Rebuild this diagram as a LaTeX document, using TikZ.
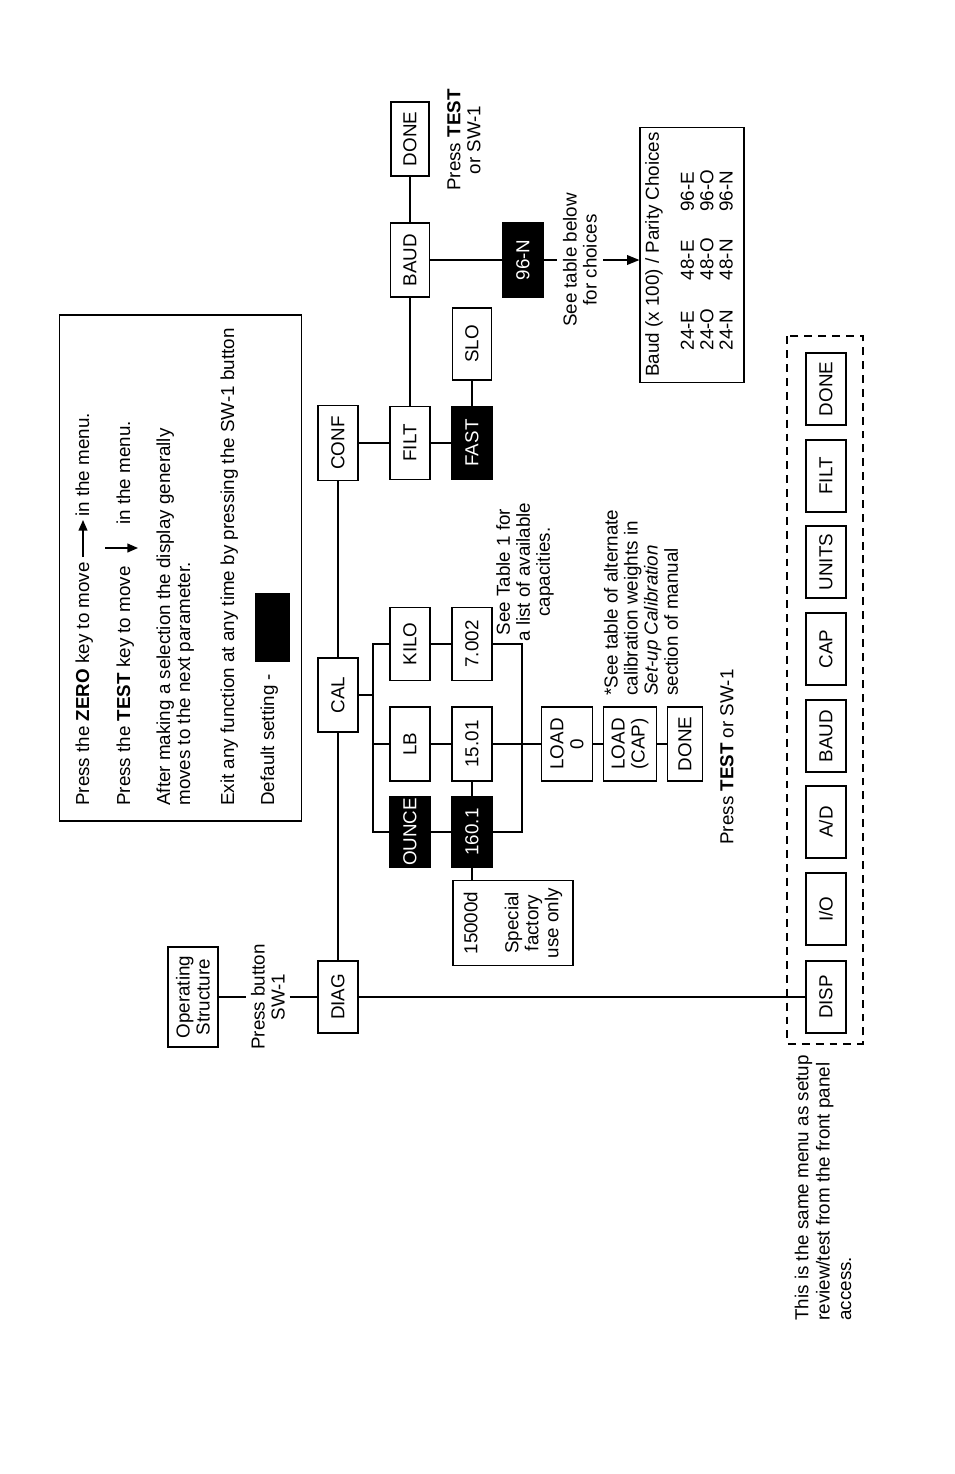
\documentclass[tikz,border=0pt]{standalone}
\usepackage{fontspec}
\setmainfont{Liberation Sans}
\usetikzlibrary{arrows.meta}
\newcommand{\myfs}{\fontsize{10.7}{11.4}\selectfont}
\begin{document}
\begin{tikzpicture}[x=0.02cm,y=-0.02cm, font=\myfs,
 sz/.style 2 args={minimum width=#1*0.5669pt, minimum height=#2*0.5669pt},
 box/.style={draw, line width=0.9pt, rotate=90, inner sep=0pt, align=center},
 blk/.style={box, fill=black, text=white},
 txt/.style={rotate=90, inner sep=0pt, align=center},
 ln/.style={line width=0.8pt},
 tip/.style={-{Triangle[length=6pt,width=5pt]}},
]
\useasboundingbox (0,0) rectangle (954,1474);

% info box
\node[draw, line width=0.9pt, rotate=90, sz={508}{243}] (info) at (180.5,568) {};
\node[txt, anchor=base west] (l1a) at (89,806) {Press the \textbf{ZERO} key to move};
\node[txt, anchor=base west] (l1b) at (89,517) {in the menu.};
\coordinate (a1s) at (83,557);
\coordinate (a1e) at (83,520);
\draw[ln, tip] (a1s) -- (a1e);
\node[txt, anchor=base west] (l2a) at (130,806) {Press the \textbf{TEST} key to move};
\node[txt, anchor=base west] (l2b) at (130,525) {in the menu.};
\coordinate (a2s) at (105,548);
\coordinate (a2e) at (138,548);
\draw[ln, tip] (a2s) -- (a2e);
\node[txt, anchor=base west] (l3) at (170,806) {After making a selection the display generally};
\node[txt, anchor=base west] (l4) at (190,806) {moves to the next parameter.};
\node[txt, anchor=base west] (l5) at (234,806) {Exit any function at any time by pressing the SW-1 button};
\node[txt, anchor=base west] (l6) at (274,806) {Default setting -};
\node[fill=black, rotate=90, inner sep=0pt, sz={69}{35}] (defbox) at (272.5,627.5) {};

% main tree
\node[box, sz={100}{50}] (op) at (193,997) {Operating\\Structure};
\node[txt, inner sep=2.5pt] (pb) at (268,997) {Press button\\SW-1};
\node[box, sz={72}{40}] (diag) at (338,997) {DIAG};
\node[box, sz={74}{40}] (cal) at (338,695) {CAL};
\node[box, sz={75}{40}] (conf) at (338,443) {CONF};

\node[box, sz={73}{40}] (kilo) at (410,644) {KILO};
\node[box, sz={74}{40}] (lb) at (410,744) {LB};
\node[blk, sz={70}{40}] (ounce) at (410,832) {OUNCE};
\node[box, sz={73}{40}] (n7) at (472,644) {7.002};
\node[box, sz={74}{40}] (n15) at (472,744) {15.01};
\node[blk, sz={70}{40}] (n160) at (472,832) {160.1};
\node[box, sz={74}{51}] (load0) at (567,744) {LOAD\\0};
\node[box, sz={74}{53}] (loadcap) at (630,744) {LOAD\\(CAP)};
\node[box, sz={74}{35}] (donec) at (685,744) {DONE};
\node[box, sz={85}{121}] (spec) at (513,923) {15000d\\[12pt]Special\\factory\\use only};

\node[txt] (seetab1) at (525,572) {See Table 1 for\\a list of available\\capacities.};
\node[txt, align=left, anchor=west] (seealt) at (641,696) {*See table of alternate\\calibration weights in\\\textit{Set-up Calibration}\\section of manual};
\node[txt] (ptest1) at (727,757) {Press \textbf{TEST} or SW-1};

\node[box, sz={73}{40}] (filt) at (410,443) {FILT};
\node[blk, sz={73}{40}] (fast) at (472,443) {FAST};
\node[box, sz={72}{39}] (slo) at (472,344) {SLO};
\node[box, sz={74}{39}] (baud) at (410,260) {BAUD};
\node[box, sz={74}{38}] (doneb) at (410,139) {DONE};
\node[txt] (ptest2) at (464,140) {Press \textbf{TEST}\\or SW-1};
\node[blk, sz={74}{40}] (n96) at (523,260) {96-N};
\node[txt, inner sep=3.5pt] (stb) at (580,260) {See table below\\for choices};

\node[box, sz={256}{104}] (tbl) at (692,255) {};
\node[txt, align=left, anchor=west, font=\fontsize{10.7}{11}\selectfont] (tbltxt) at (689,377)
 {Baud (x 100) / Parity Choices\\[9pt]
  \hspace*{15pt}\makebox[40pt][l]{24-E}\makebox[39pt][l]{48-E}96-E\\
  \hspace*{15pt}\makebox[40pt][l]{24-O}\makebox[39pt][l]{48-O}96-O\\
  \hspace*{15pt}\makebox[40pt][l]{24-N}\makebox[39pt][l]{48-N}96-N};

% dashed menu
\node[draw, dash pattern=on 4.5pt off 3.4pt, line width=1.1pt, rotate=90, sz={710}{76}] (dashbox) at (825,690) {};
\node[box, sz={72}{40}] (disp) at (826,997) {DISP};
\node[box, sz={72}{40}] (io) at (826,909) {I/O};
\node[box, sz={72}{40}] (ad) at (826,822) {A/D};
\node[box, sz={72}{40}] (mbaud) at (826,736) {BAUD};
\node[box, sz={72}{40}] (mcap) at (826,649) {CAP};
\node[box, sz={72}{40}] (munits) at (826,562) {UNITS};
\node[box, sz={72}{40}] (mfilt) at (826,476) {FILT};
\node[box, sz={72}{40}] (mdone) at (826,389) {DONE};
\node[txt, align=left, anchor=west, font=\fontsize{10.7}{12.2}\selectfont] (foot) at (823,1321)
 {This is the same menu as setup\\review/test from the front panel\\access.};

% connectors
\draw[ln] (op) -- (pb);
\draw[ln] (pb) -- (diag);
\draw[ln] (diag) -- (disp);
\draw[ln] (diag) -- (cal);
\draw[ln] (cal) -- (conf);
\coordinate (cb) at (373,695);
\draw[ln] (cal) -- (cb);
\draw[ln] (kilo) -| (cb) |- (ounce);
\draw[ln] (lb) -- (lb -| cb);
\draw[ln] (kilo) -- (n7);
\draw[ln] (lb) -- (n15);
\draw[ln] (ounce) -- (n160);
\coordinate (rb) at (522,744);
\draw[ln] (n7) -| (rb) |- (n160);
\draw[ln] (n15) -- (load0);
\draw[ln] (load0) -- (loadcap);
\draw[ln] (loadcap) -- (donec);
\draw[ln] (n15) -- (n160);
\draw[ln] (n160) -- (n160 |- spec.east);

\draw[ln] (conf) -- (filt);
\draw[ln] (filt) -- (fast);
\draw[ln] (fast) -- (slo);
\draw[ln] (filt) -- (baud);
\draw[ln] (baud) -- (doneb);
\draw[ln] (baud) -- (n96);
\draw[ln] (n96) -- (stb);
\draw[ln, -{Triangle[length=7pt,width=5.5pt]}] (stb) -- (stb -| tbl.north);
\end{tikzpicture}
\end{document}
